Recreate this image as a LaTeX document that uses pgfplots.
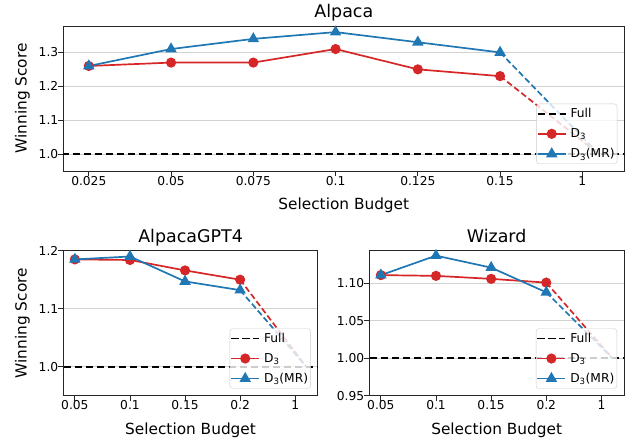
\documentclass[border=0pt]{standalone}
\usepackage{fontspec}
\setmainfont{DejaVu Sans}
\usepackage{pgfplots}
\pgfplotsset{compat=1.18}
\definecolor{mred}{HTML}{D62728}
\definecolor{mblue}{HTML}{1F77B4}

\pgfplotsset{
  panel/.style={
    scale only axis, anchor=south west,
    axis line style={black!85, line width=0.9bp},
    tick pos=left, tick align=outside,
    major tick length=4.9bp,
    every tick/.style={black!85, line width=0.9bp},
    ymajorgrids, grid style={gray!35, line width=0.9bp},
    tick label style={font=\fontsize{12.3}{14}\selectfont},
    /pgf/number format/assume math mode=true,
    xticklabel style={inner sep=0pt, anchor=north},
    yticklabel style={inner sep=0pt, anchor=east},
    xtick={0,1,2,3,4,5,6},
    every axis title shift=0pt,
    title style={font=\fontsize{17.5}{20}\selectfont, at={([yshift=8.4bp]axis description cs:0.5,1)}, anchor=base},
    xlabel style={font=\fontsize{15.4}{18}\selectfont, at={([yshift=-39bp]axis description cs:0.5,0)}, anchor=base},
    ylabel style={font=\fontsize{15.4}{18}\selectfont, at={([xshift=-36.6bp]axis description cs:0,0.5)}, anchor=base},
    xlabel={Selection Budget},
    ylabel={Winning Score},
    legend cell align=left,
    legend style={at={(1,0)}, anchor=south east, xshift=-7bp, yshift=7bp,
      draw=black!20, rounded corners=3bp, fill=white, fill opacity=0.8,
      draw opacity=1, text opacity=1,
      font=\fontsize{12.3}{14}\selectfont,
      inner xsep=0.5bp, inner ysep=2.5bp, row sep=5.5bp},
    legend image code/.code={\draw[mark repeat=2,mark phase=2] plot coordinates {(0bp,0bp) (14bp,0bp) (28bp,0bp)};\path (30bp,0bp);},
    legend image post style={sharp corners, fill opacity=1},
  },
  full/.style={black, line width=1.7bp, dash pattern=on 7.5bp off 3.5bp},
  dthree/.style={mred, line width=1.7bp, mark=*, mark size=4.2bp, mark options={solid}},
  dmr/.style={mblue, line width=1.7bp, mark=triangle*, mark size=5bp, mark options={solid}},
  conn/.style={line width=1.7bp, dash pattern=on 6bp off 3bp, forget plot},
}

\begin{document}
\begin{tikzpicture}
\path[use as bounding box] (0,0) rectangle (634bp,441bp);

% Alpaca
\begin{axis}[panel, at={(63.3bp,270bp)}, width=561bp, height=145bp,
  title={Alpaca},
  xmin=-0.31, xmax=6.51, ymin=0.95, ymax=1.378,
  xticklabels={0.025,0.05,0.075,0.1,0.125,0.15,1},
  ytick={1.0,1.1,1.2,1.3},
  yticklabel style={/pgf/number format/.cd, fixed, fixed zerofill, precision=1},
]
\addplot[full] coordinates {(-1,1.0) (8,1.0)};
\addlegendentry{Full}
\addplot[dthree] coordinates {(0,1.26) (1,1.27) (2,1.27) (3,1.31) (4,1.25) (5,1.23)};
\addlegendentry{D\textsubscript{3}}
\addplot[dmr] coordinates {(0,1.26) (1,1.31) (2,1.34) (3,1.36) (4,1.33) (5,1.30)};
\addlegendentry{D\textsubscript{3}(MR)}
\addplot[conn, mred] coordinates {(5,1.23) (6.2,1.0)};
\addplot[conn, mblue] coordinates {(5,1.30) (6.2,1.0)};
\end{axis}

% AlpacaGPT4
\begin{axis}[panel, at={(63.3bp,45.3bp)}, width=254.5bp, height=145bp,
  title={AlpacaGPT4},
  xmin=-0.21, xmax=4.41, ymin=0.95, ymax=1.2,
  xticklabels={0.05,0.1,0.15,0.2,1},
  ytick={1.0,1.1,1.2},
  yticklabel style={/pgf/number format/.cd, fixed, fixed zerofill, precision=1},
]
\addplot[full] coordinates {(-1,1.0) (6,1.0)};
\addlegendentry{Full}
\addplot[dthree] coordinates {(0,1.185) (1,1.184) (2,1.166) (3,1.150)};
\addlegendentry{D\textsubscript{3}}
\addplot[dmr] coordinates {(0,1.185) (1,1.190) (2,1.147) (3,1.132)};
\addlegendentry{D\textsubscript{3}(MR)}
\addplot[conn, mred] coordinates {(3,1.150) (4.2,1.0)};
\addplot[conn, mblue] coordinates {(3,1.132) (4.2,1.0)};
\end{axis}

% Wizard
\begin{axis}[panel, at={(369.3bp,45.3bp)}, width=254.7bp, height=145bp,
  title={Wizard}, ylabel={},
  xmin=-0.21, xmax=4.41, ymin=0.95, ymax=1.1436,
  xticklabels={0.05,0.1,0.15,0.2,1},
  ytick={0.95,1.0,1.05,1.1},
  yticklabel style={/pgf/number format/.cd, fixed, fixed zerofill, precision=2},
]
\addplot[full] coordinates {(-1,1.0) (6,1.0)};
\addlegendentry{Full}
\addplot[dthree] coordinates {(0,1.111) (1,1.110) (2,1.106) (3,1.101)};
\addlegendentry{D\textsubscript{3}}
\addplot[dmr] coordinates {(0,1.111) (1,1.137) (2,1.121) (3,1.088)};
\addlegendentry{D\textsubscript{3}(MR)}
\addplot[conn, mred] coordinates {(3,1.101) (4.2,1.0)};
\addplot[conn, mblue] coordinates {(3,1.088) (4.2,1.0)};
\end{axis}
\end{tikzpicture}
\end{document}
